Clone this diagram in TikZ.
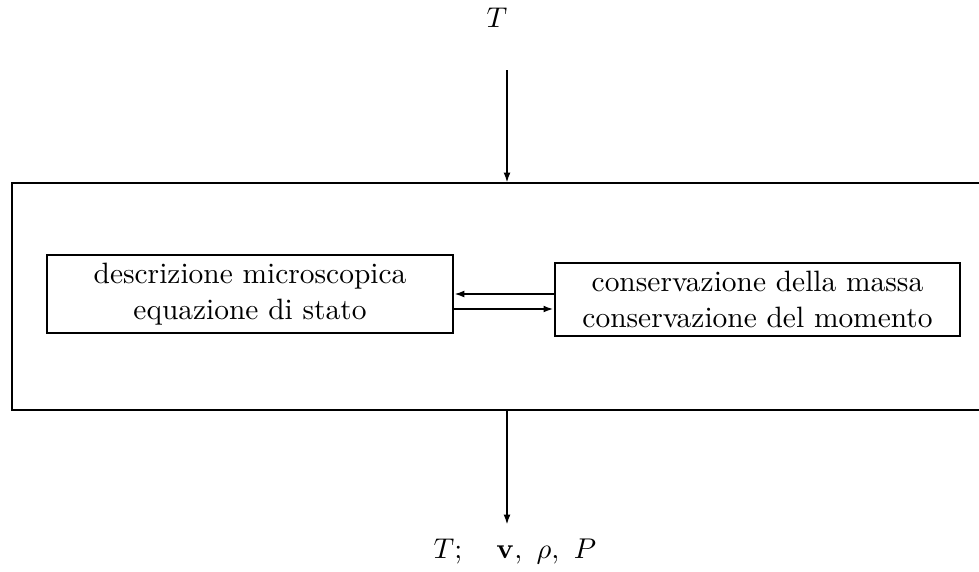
\documentclass[tikz,border=0pt]{standalone}
\usetikzlibrary{arrows.meta}
\begin{document}
\begin{tikzpicture}[x=0.35pt,y=-0.35pt,
  every node/.style={font=\fontsize{10.3}{12.6}\selectfont},
  ln/.style={line width=0.8pt},
  arr/.style={ln,-{Latex[length=3.6pt,width=2.4pt]}},
  box/.style={draw,ln,align=center,inner sep=0pt}]
\useasboundingbox (0,0) rectangle (979,571);
\node (tin) at (497,18) {$T$};
\coordinate (ttop) at (507,70);
\coordinate (tbox) at (507,183);
\coordinate (bbox) at (507,410);
\coordinate (bend) at (507,525);
\draw[ln] (985,183) -| (12,410) -- (985,410);
\node[box,minimum width=142pt,minimum height=27.3pt] (micro) at (250,294) {descrizione microscopica\\equazione di stato};
\node[box,minimum width=141.8pt,minimum height=25.5pt] (cons) at (757.5,299.5) {conservazione della massa\\conservazione del momento};
\draw[arr] (ttop) -- (tbox);
\draw[arr] (cons.west |- 0,294) -- (micro.east |- 0,294);
\draw[arr] (micro.east |- 0,309) -- (cons.west |- 0,309);
\draw[arr] (bbox) -- (bend);
\node (out) at (515,552) {$T;\quad \mathbf{v},\ \rho,\ P$};
\end{tikzpicture}
\end{document}
